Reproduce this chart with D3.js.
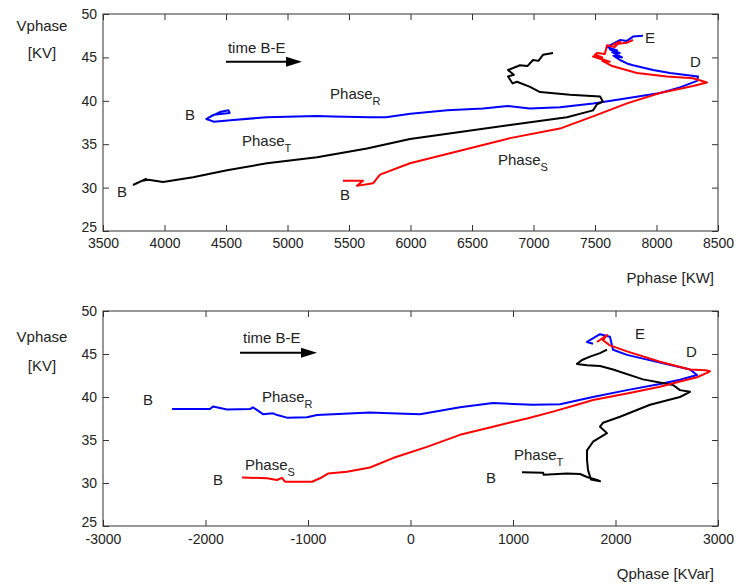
<!DOCTYPE html>
<html><head><meta charset="utf-8">
<script src="https://cdn.jsdelivr.net/npm/d3@7"></script>
<style>
html,body{margin:0;padding:0;background:#fff;}
svg text{font-family:"Liberation Sans",Arial,sans-serif;fill:#222;}
</style></head>
<body><svg id="c" width="737" height="585"></svg>
<script>
// ---------- data ----------
const topXTicks = [3500,4000,4500,5000,5500,6000,6500,7000,7500,8000,8500];
const botXTicks = [-3000,-2000,-1000,0,1000,2000,3000];
const yTicks = [25,30,35,40,45,50];

const topPhaseR = [[4350,38.0],[4450,38.7],[4520,38.9],[4530,38.6],[4400,38.4],[4340,37.9],[4400,37.6],[4560,37.8],[4830,38.1],[5240,38.25],[5370,38.2],[5670,38.1],[5800,38.1],[6000,38.5],[6300,38.9],[6590,39.1],[6790,39.4],[6970,39.1],[7215,39.25],[7485,39.7],[7760,40.3],[8030,40.9],[8190,41.55],[8330,42.3],[8337,42.8],[8110,43.2],[7972,43.55],[7809,44.1],[7760,44.3],[7703,44.7],[7650,45.2],[7720,45.0],[7640,45.6],[7700,45.5],[7622,45.9],[7680,45.8],[7598,46.2],[7703,47.0],[7760,46.9],[7809,47.4],[7890,47.5]];
const topPhaseS = [[5451,30.8],[5614,30.8],[5565,30.2],[5695,30.5],[5752,31.5],[5996,32.8],[6402,34.25],[6809,35.7],[7215,36.8],[7484,38.2],[7760,39.7],[8028,40.9],[8297,41.7],[8410,42.1],[8297,42.6],[8085,42.8],[7841,43.2],[7703,43.75],[7640,44.0],[7598,44.3],[7560,44.6],[7620,44.5],[7484,45.1],[7560,45.0],[7500,45.3],[7516,45.5],[7580,45.4],[7598,46.4],[7660,46.2],[7703,46.8],[7650,46.5],[7760,46.7],[7809,47.0]];
const topPhaseT = [[3744,30.3],[3850,31.0],[3820,30.8],[3870,30.9],[3988,30.65],[4232,31.2],[4508,32.0],[4833,32.8],[5240,33.5],[5646,34.5],[5996,35.6],[6402,36.4],[6809,37.2],[7272,38.1],[7484,38.9],[7516,39.6],[7565,39.9],[7541,40.5],[7297,40.7],[7053,41.0],[6972,41.6],[6866,42.2],[6830,42.0],[6793,42.8],[6840,43.0],[6793,43.55],[6890,44.1],[6950,44.0],[6996,44.7],[7040,44.6],[7077,45.3],[7159,45.5]];

const botPhaseR = [[-2327,38.6],[-1956,38.6],[-1927,38.9],[-1790,38.55],[-1566,38.6],[-1537,38.8],[-1439,38.0],[-1341,38.1],[-1300,37.9],[-1205,37.6],[-1010,37.65],[-912,37.9],[-756,38.0],[-395,38.2],[-268,38.15],[93,38.0],[483,38.8],[805,39.3],[1000,39.2],[1195,39.1],[1459,39.15],[1780,40.0],[2112,40.8],[2434,41.5],[2629,42.0],[2795,42.55],[2727,43.2],[2434,44.0],[2112,44.9],[1976,45.5],[1946,47.0],[1849,47.3],[1722,46.4],[1781,46.2]];
const botPhaseS = [[-1644,30.65],[-1400,30.55],[-1302,30.35],[-1254,30.6],[-1224,30.15],[-961,30.15],[-883,30.55],[-805,31.1],[-620,31.3],[-395,31.8],[-171,32.9],[161,34.2],[483,35.6],[805,36.55],[1137,37.5],[1390,38.3],[1624,39.1],[1781,39.65],[2112,40.4],[2434,41.2],[2629,41.8],[2795,42.3],[2893,42.8],[2922,43.0],[2880,43.1],[2727,43.2],[2434,44.1],[2112,45.3],[1946,46.0],[1878,46.6],[1917,47.2],[1820,46.4]];
const botPhaseT = [[1088,31.25],[1293,31.2],[1300,30.95],[1527,31.1],[1654,31.05],[1722,30.7],[1820,30.35],[1849,30.2],[1760,30.4],[1732,31.5],[1722,32.7],[1722,33.8],[1781,34.8],[1917,35.8],[1849,36.55],[1878,37.0],[2044,37.7],[2337,39.1],[2629,40.0],[2727,40.6],[2629,40.8],[2561,41.4],[2268,42.05],[1976,43.2],[1849,43.6],[1722,43.7],[1624,43.85],[1673,44.3],[1751,44.7],[1849,45.1],[1917,45.5]];

const phaseColors = {R:"#0000ff", S:"#ff0000", T:"#000000"};

const topLabels = [
  {t:"B",x:4167,y:37.8},{t:"Phase",sub:"R",x:5346,y:40.2},{t:"Phase",sub:"T",x:4630,y:34.8},
  {t:"B",x:3614,y:28.9},{t:"B",x:5427,y:28.6},{t:"Phase",sub:"S",x:6711,y:32.6},
  {t:"E",x:7907,y:46.66},{t:"D",x:8272,y:43.9},{t:"time B-E",x:4516,y:45.5}];
const botLabels = [
  {t:"B",x:-2610,y:39.07},{t:"Phase",sub:"R",x:-1449,y:39.4},{t:"Phase",sub:"S",x:-1615,y:31.5},
  {t:"B",x:-1927,y:29.77},{t:"B",x:737,y:30.0},{t:"Phase",sub:"T",x:1010,y:32.67},
  {t:"E",x:2190,y:46.74},{t:"D",x:2688,y:44.65},{t:"time B-E",x:-1634,y:46.3}];
const topArrow = {x0:4500,x1:5118,y:44.5};
const botArrow = {x0:-1663,x1:-912,y:45.15};

// ---------- drawing ----------
const svg = d3.select("#c");

function panel(cfg){
  const {xDomain,yTop,yBot,xTicks,series,labels,arrow,xLabel,xLabelY,vY,kvY,tickLabelY} = cfg;
  const L=103,R=718;
  const x = d3.scaleLinear().domain(xDomain).range([L,R]);
  const y = d3.scaleLinear().domain([25,50]).range([yBot,yTop]);
  const g = svg.append("g");

  const fmt = d => String(d);
  const ax = g.append("g").attr("transform",`translate(0,${yBot})`)
    .call(d3.axisBottom(x).tickValues(xTicks).tickSizeInner(-6).tickSizeOuter(0).tickPadding(tickLabelY).tickFormat(fmt));
  const axT = g.append("g").attr("transform",`translate(0,${yTop})`)
    .call(d3.axisTop(x).tickValues(xTicks).tickSizeInner(-6).tickSizeOuter(0).tickFormat(""));
  const ay = g.append("g").attr("transform",`translate(${L},0)`)
    .call(d3.axisLeft(y).tickValues(yTicks).tickSizeInner(-6).tickSizeOuter(0).tickPadding(6).tickFormat(fmt));
  const ayR = g.append("g").attr("transform",`translate(${R},0)`)
    .call(d3.axisRight(y).tickValues(yTicks).tickSizeInner(-6).tickSizeOuter(0).tickFormat(""));
  [ax,axT,ay,ayR].forEach(a=>{
    a.select(".domain").remove();
    a.selectAll("line").attr("stroke","#333");
    a.selectAll("text").attr("font-size",14).attr("fill","#222")
      .style("font-family",'"Liberation Sans",Arial,sans-serif');
  });
  ax.selectAll("text").attr("dy","0.71em");
  ay.selectAll("text").filter(d=>d===25).attr("dy","0.05em");

  g.append("rect").attr("x",L).attr("y",yTop).attr("width",R-L).attr("height",yBot-yTop)
    .attr("fill","none").attr("stroke","#333").attr("stroke-width",1);

  const line = d3.line().x(d=>x(d[0])).y(d=>y(d[1]));
  series.forEach(s=>{
    g.append("path").datum(s.data).attr("d",line).attr("fill","none")
      .attr("stroke",s.color).attr("stroke-width",2).attr("stroke-linejoin","round");
  });

  labels.forEach(l=>{
    const t = g.append("text").attr("x",x(l.x)).attr("y",y(l.y)).attr("font-size",15);
    t.append("tspan").text(l.t);
    if(l.sub) t.append("tspan").attr("font-size",11).attr("dy",6).text(l.sub);
  });

  // arrow
  const ay0 = y(arrow.y), ax0 = x(arrow.x0), ax1 = x(arrow.x1);
  g.append("line").attr("x1",ax0).attr("x2",ax1-10).attr("y1",ay0).attr("y2",ay0)
    .attr("stroke","#000").attr("stroke-width",2);
  g.append("path").attr("d",`M${ax1},${ay0} L${ax1-16},${ay0-5} L${ax1-16},${ay0+5} Z`).attr("fill","#000");

  // axis titles
  g.append("text").attr("x",L-61).attr("y",vY).attr("text-anchor","middle").attr("font-size",15).text("Vphase");
  g.append("text").attr("x",L-61).attr("y",kvY).attr("text-anchor","middle").attr("font-size",15).text("[KV]");
  g.append("text").attr("x",R-4).attr("y",xLabelY).attr("text-anchor","end").attr("font-size",15).text(xLabel);
}

panel({xDomain:[3500,8500],yTop:14,yBot:231,xTicks:topXTicks,
  series:[{data:topPhaseR,color:phaseColors.R},{data:topPhaseT,color:phaseColors.T},{data:topPhaseS,color:phaseColors.S}],
  labels:topLabels,arrow:topArrow,xLabel:"Pphase [KW]",xLabelY:283,vY:31,kvY:58,tickLabelY:7});
panel({xDomain:[-3000,3000],yTop:311,yBot:526,xTicks:botXTicks,
  series:[{data:botPhaseR,color:phaseColors.R},{data:botPhaseT,color:phaseColors.T},{data:botPhaseS,color:phaseColors.S}],
  labels:botLabels,arrow:botArrow,xLabel:"Qphase [KVar]",xLabelY:579,vY:342,kvY:371,tickLabelY:8});
</script></body></html>
